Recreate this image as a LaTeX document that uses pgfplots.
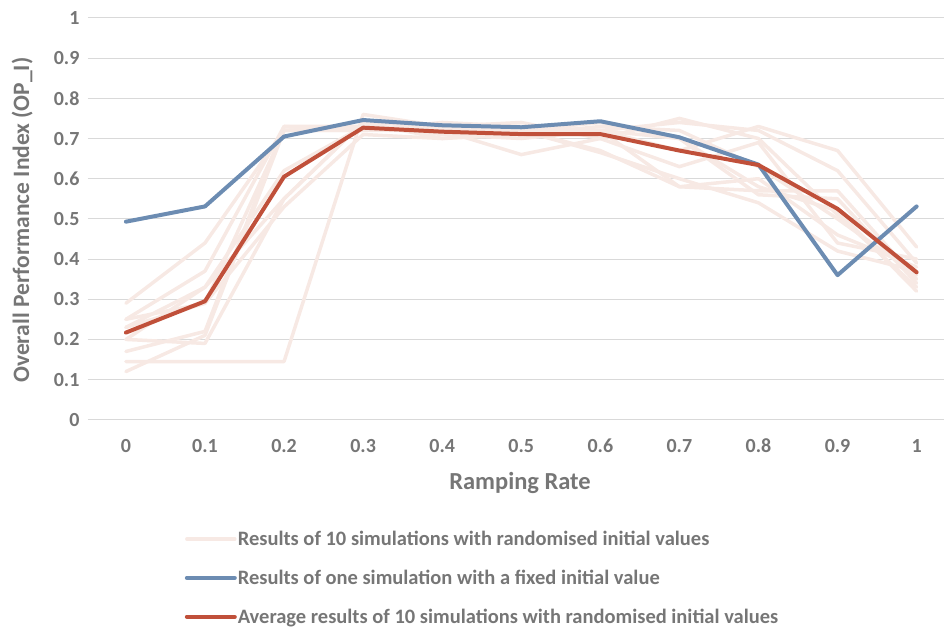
\documentclass[border=0pt]{standalone}
\usepackage{fontspec}
\setmainfont{Carlito}
\usepackage{pgfplots}
\pgfplotsset{compat=1.18}

\definecolor{txtgray}{RGB}{118,118,118}
\definecolor{gridgray}{RGB}{217,217,217}
\definecolor{simpink}{RGB}{247,233,228}
\definecolor{fixblue}{RGB}{108,140,178}
\definecolor{avgred}{RGB}{192,80,58}

\begin{document}
\begin{tikzpicture}[x=1pt,y=1pt]
\path (0,0) rectangle (944,629);
\begin{axis}[
    at={(88pt,209pt)}, anchor=south west,
    width=856pt, height=402pt, scale only axis,
    xmin=-0.048, xmax=1.034,
    ymin=0, ymax=1,
    xtick={0,0.1,0.2,0.3,0.4,0.5,0.6,0.7,0.8,0.9,1},
    xticklabels={0,0.1,0.2,0.3,0.4,0.5,0.6,0.7,0.8,0.9,1},
    ytick={0,0.1,0.2,0.3,0.4,0.5,0.6,0.7,0.8,0.9,1},
    yticklabels={0,0.1,0.2,0.3,0.4,0.5,0.6,0.7,0.8,0.9,1},
    ymajorgrids,
    grid style={gridgray, line width=1pt},
    axis line style={draw=none},
    major tick length=0pt,
    tick label style={font=\bfseries\fontsize{20}{24}\selectfont, text=txtgray},
    xticklabel style={anchor=base, yshift=-33pt},
    yticklabel style={anchor=east, xshift=-5pt},
    xlabel={Ramping Rate},
    ylabel={Overall Performance Index (OP\_I)},
    every axis x label/.style={at={(axis description cs:0.505,-0.157)}, anchor=center,
        font=\bfseries\fontsize{24.5}{28}\selectfont, text=txtgray},
    every axis y label/.style={at={(axis description cs:-0.077,0.497)}, rotate=90, anchor=center,
        font=\bfseries\fontsize{23.5}{28}\selectfont, text=txtgray},
    legend style={at={(axis description cs:0.113,-0.274)}, anchor=north west,
        draw=none, fill=none, inner sep=0pt, row sep=21pt,
        font=\bfseries\fontsize{20.5}{24}\selectfont, text=txtgray,
        nodes={inner sep=1pt}},
    legend cell align=left,
    legend image code/.code={\draw[#1] (0pt,0pt) -- (48pt,0pt);},
    every axis plot/.append style={line join=round, line cap=round},
]
% ten simulations with randomised initial values
\addplot[simpink, line width=3.5pt] coordinates {(0,0.145) (0.1,0.145) (0.2,0.145) (0.3,0.76) (0.4,0.73) (0.5,0.72) (0.6,0.72) (0.7,0.74) (0.8,0.72) (0.9,0.62) (1,0.39)};
\addlegendentry{Results of 10 simulations with randomised initial values}
\addplot[simpink, line width=3.5pt, forget plot] coordinates {(0,0.12) (0.1,0.21) (0.2,0.72) (0.3,0.73) (0.4,0.71) (0.5,0.70) (0.6,0.72) (0.7,0.58) (0.8,0.57) (0.9,0.57) (1,0.35)};
\addplot[simpink, line width=3.5pt, forget plot] coordinates {(0,0.17) (0.1,0.22) (0.2,0.73) (0.3,0.72) (0.4,0.72) (0.5,0.66) (0.6,0.70) (0.7,0.75) (0.8,0.70) (0.9,0.51) (1,0.33)};
\addplot[simpink, line width=3.5pt, forget plot] coordinates {(0,0.20) (0.1,0.19) (0.2,0.55) (0.3,0.74) (0.4,0.70) (0.5,0.72) (0.6,0.665) (0.7,0.60) (0.8,0.54) (0.9,0.42) (1,0.37)};
\addplot[simpink, line width=3.5pt, forget plot] coordinates {(0,0.29) (0.1,0.44) (0.2,0.72) (0.3,0.72) (0.4,0.74) (0.5,0.73) (0.6,0.72) (0.7,0.67) (0.8,0.73) (0.9,0.67) (1,0.43)};
\addplot[simpink, line width=3.5pt, forget plot] coordinates {(0,0.25) (0.1,0.37) (0.2,0.73) (0.3,0.73) (0.4,0.72) (0.5,0.71) (0.6,0.73) (0.7,0.72) (0.8,0.63) (0.9,0.50) (1,0.36)};
\addplot[simpink, line width=3.5pt, forget plot] coordinates {(0,0.23) (0.1,0.33) (0.2,0.62) (0.3,0.73) (0.4,0.72) (0.5,0.72) (0.6,0.67) (0.7,0.58) (0.8,0.60) (0.9,0.46) (1,0.38)};
\addplot[simpink, line width=3.5pt, forget plot] coordinates {(0,0.25) (0.1,0.29) (0.2,0.53) (0.3,0.71) (0.4,0.70) (0.5,0.71) (0.6,0.72) (0.7,0.70) (0.8,0.56) (0.9,0.55) (1,0.34)};
\addplot[simpink, line width=3.5pt, forget plot] coordinates {(0,0.23) (0.1,0.29) (0.2,0.72) (0.3,0.72) (0.4,0.73) (0.5,0.74) (0.6,0.70) (0.7,0.63) (0.8,0.69) (0.9,0.44) (1,0.40)};
\addplot[simpink, line width=3.5pt, forget plot] coordinates {(0,0.20) (0.1,0.33) (0.2,0.55) (0.3,0.74) (0.4,0.73) (0.5,0.72) (0.6,0.74) (0.7,0.70) (0.8,0.58) (0.9,0.52) (1,0.32)};
% one simulation with fixed initial value
\addplot[fixblue, line width=4pt] coordinates {(0,0.493) (0.1,0.531) (0.2,0.705) (0.3,0.746) (0.4,0.733) (0.5,0.728) (0.6,0.743) (0.7,0.703) (0.8,0.635) (0.9,0.360) (1,0.531)};
\addlegendentry{Results of one simulation with a fixed initial value}
% average of the ten
\addplot[avgred, line width=4pt] coordinates {(0,0.217) (0.1,0.295) (0.2,0.605) (0.3,0.727) (0.4,0.717) (0.5,0.711) (0.6,0.711) (0.7,0.670) (0.8,0.634) (0.9,0.525) (1,0.367)};
\addlegendentry{Average results of 10 simulations with randomised initial values}
\end{axis}
\end{tikzpicture}
\end{document}
